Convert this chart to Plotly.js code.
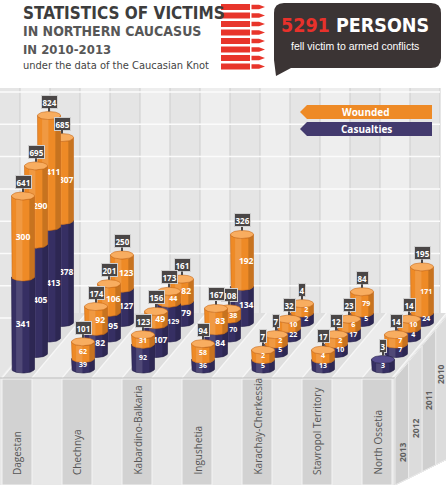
<!DOCTYPE html>
<html><head><meta charset="utf-8">
<script src="https://cdn.plot.ly/plotly-3.0.1.min.js"></script>
<style>html,body{margin:0;padding:0;background:#fff}#chart{width:446px;height:485px}</style>
</head><body><div id="chart"></div>
<script>
// ---------------- DATA ----------------
const regions = ['Dagestan','Chechnya','Kabardino-Balkaria','Ingushetia','Karachay-Cherkessia','Stavropol Territory','North Ossetia'];
const years = ['2013','2012','2011','2010']; // front row to back row
const casualties2013 = [341, 39, 92, 36, 5, 13, 3];
const wounded2013    = [300, 62, 31, 58, 2,  4, 0];
const casualties2012 = [405, 82,107, 84, 5, 10, 7];
const wounded2012    = [290, 92, 49, 83, 2,  2, 7];
const casualties2011 = [413, 95,129, 70,22, 17, 4];
const wounded2011    = [411,106, 44, 38,10,  6,10];
const casualties2010 = [378,127, 79,134, 2,  5,24];
const wounded2010    = [307,123, 82,192, 2, 79,171];
const totalVictims = 5291;
const seriesNames = ['Wounded','Casualties'];

const casualtiesByRow = [casualties2013, casualties2012, casualties2011, casualties2010];
const woundedByRow    = [wounded2013, wounded2012, wounded2011, wounded2010];

// ---------------- GEOMETRY ----------------
const W=446, H=485;
const X0=23, XS=60, Y0=369, K=0.27;
const DX=13/XS, DY=15.5/K, RX=11.5/XS, RY=4/K, MINV=35, N=28;
const px = x => x/W, py = y => 1 - y/H;
const FONT = 'Open Sans, Liberation Sans, sans-serif';
const NARROW = 'Liberation Sans Narrow, DejaVu Sans Condensed, Liberation Sans, sans-serif';
const C = {navy:'#362f63', navyCap:'#554b8d', navyEdge:'#221d45',
           orange:'#ee8a26', orangeCap:'#f8ad60', orangeEdge:'#c96a18'};

function bodyTrace(cx, y0, y1, fill, edge){
  const xs=[cx-RX], ys=[y1];
  for(let k=0;k<=N;k++){const t=Math.PI+Math.PI*k/N; xs.push(cx+RX*Math.cos(t)); ys.push(y0+RY*Math.sin(t));}
  for(let k=0;k<=N;k++){const t=2*Math.PI-Math.PI*k/N; xs.push(cx+RX*Math.cos(t)); ys.push(y1+RY*Math.sin(t));}
  return {type:'scatter', mode:'lines', x:xs, y:ys, fill:'toself', fillcolor:fill,
          line:{color:edge, width:0.6}, hoverinfo:'skip', showlegend:false};
}
// shading strip that follows the front arcs of a cylinder body between u0 and u1 (fractions of radius)
function stripTrace(cx, y0, y1, u0, u1, fill){
  const xs=[], ys=[], M=10;
  for(let k=0;k<=M;k++){const u=u0+(u1-u0)*k/M; xs.push(cx+RX*u); ys.push(y0-RY*Math.sqrt(Math.max(0,1-u*u)));}
  for(let k=M;k>=0;k--){const u=u0+(u1-u0)*k/M; xs.push(cx+RX*u); ys.push(y1-RY*Math.sqrt(Math.max(0,1-u*u)));}
  xs.push(xs[0]); ys.push(ys[0]);
  return {type:'scatter', mode:'lines', x:xs, y:ys, fill:'toself', fillcolor:fill,
          line:{width:0}, hoverinfo:'skip', showlegend:false};
}
function capTrace(cx, y, fill, edge){
  const xs=[], ys=[];
  for(let k=0;k<=2*N;k++){const t=2*Math.PI*k/(2*N); xs.push(cx+RX*Math.cos(t)); ys.push(y+RY*Math.sin(t));}
  return {type:'scatter', mode:'lines', x:xs, y:ys, fill:'toself', fillcolor:fill,
          line:{color:edge, width:0.6}, hoverinfo:'skip', showlegend:false};
}
function path(pts){ return 'M' + pts.map(p => px(p[0]).toFixed(5)+','+py(p[1]).toFixed(5)).join(' L') + ' Z'; }
function txt(x, y, text, font, extra){
  return Object.assign({xref:'paper', yref:'paper', x:px(x), y:py(y), xanchor:'center', yanchor:'middle', showarrow:false, text:text, font:font}, extra||{});
}

const traces=[], ann=[], shapes=[];

// ---------------- BACKGROUND (wall, floor, base) ----------------
shapes.push({type:'rect', xref:'paper', yref:'paper', x0:px(0), x1:px(440), y0:py(378), y1:py(88), fillcolor:'#eeeeee', line:{width:0}, layer:'below'});
for(let x=-10; x<440; x+=60){
  shapes.push({type:'rect', xref:'paper', yref:'paper', x0:px(Math.max(0,x)), x1:px(x+30), y0:py(378), y1:py(88), fillcolor:'#e5e5e5', line:{width:0}, layer:'below'});
}
for(let x=20; x<=440; x+=30){
  shapes.push({type:'line', xref:'paper', yref:'paper', x0:px(x), x1:px(x), y0:py(378), y1:py(88), line:{color:'#cdcdcd', width:1}, layer:'below'});
}
for(let y=92; y<330; y+=32.3){
  shapes.push({type:'line', xref:'paper', yref:'paper', x0:px(0), x1:px(440), y0:py(y), y1:py(y), line:{color:'#fbfbfb', width:1.5}, layer:'below'});
}
// floor
const FD=54.5, FB=313;
shapes.push({type:'path', xref:'paper', yref:'paper', path:path([[0,378],[395,378],[395+FD,FB],[FD,FB]]), fillcolor:'#ececec', line:{width:0}, layer:'below'});
for(let i=0;i<regions.length;i++){
  const a=60*i+2, b=60*i+32;
  shapes.push({type:'path', xref:'paper', yref:'paper', path:path([[a,378],[b,378],[b+FD,FB],[a+FD,FB]]), fillcolor:'#dedede', line:{width:0}, layer:'below'});
}
for(let b=2; b<=395; b+=30){
  shapes.push({type:'line', xref:'paper', yref:'paper', x0:px(b), x1:px(b+FD), y0:py(378), y1:py(FB), line:{color:'#f7f7f7', width:1.2}, layer:'below'});
}
// front face
shapes.push({type:'rect', xref:'paper', yref:'paper', x0:px(0), x1:px(395), y0:py(485), y1:py(378), fillcolor:'#e8e8e8', line:{width:0}, layer:'below'});
for(let i=0;i<regions.length;i++){
  shapes.push({type:'rect', xref:'paper', yref:'paper', x0:px(60*i+2), x1:px(60*i+32), y0:py(485), y1:py(379), fillcolor:'#d2d2d2', line:{color:'#f4f4f4', width:1}, layer:'below'});
}
shapes.push({type:'line', xref:'paper', yref:'paper', x0:px(0), x1:px(395), y0:py(378), y1:py(378), line:{color:'#bdbdbd', width:1}, layer:'below'});
// side face
const sideBot = x => 485 - (x-395)*0.495;
const sideTop = x => 378 - (x-395)*(65/FD);
shapes.push({type:'path', xref:'paper', yref:'paper', path:path([[395,378],[395+FD,FB],[395+FD,sideBot(395+FD)],[395,485]]), fillcolor:'#d6d6d6', line:{color:'#c4c4c4', width:1}, layer:'below'});
for(let k=0;k<4;k++){
  const xa=395+13.6*k, xb=xa+13.6;
  shapes.push({type:'path', xref:'paper', yref:'paper', path:path([[xa,sideTop(xa)],[xb,sideTop(xb)],[xb,sideBot(xb)],[xa,sideBot(xa)]]), fillcolor:(k%2? '#dcdcdc':'#cfcfcf'), line:{color:'#ececec', width:1}, layer:'below'});
}
const yearPos = [[402,452],[415,428],[428,401],[440,374]];
years.forEach((y,k)=>{
  ann.push(txt(yearPos[k][0], yearPos[k][1], '<b>'+y+'</b>', {family:FONT, size:8.5, color:'#5f5f5f'}, {textangle:-90}));
});
regions.forEach((r,i)=>{
  ann.push(txt(60*i+17, 477, r, {family:FONT, size:10, color:'#555'}, {textangle:-90, yanchor:'bottom'}));
});

// ---------------- CYLINDERS ----------------
for(let j=3;j>=0;j--){
  for(let i=0;i<regions.length;i++){
    const c=casualtiesByRow[j][i], w=woundedByRow[j][i];
    const cx=i+j*DX, base=j*DY;
    const hc = c>0 ? Math.max(c,MINV) : 0, hw = w>0 ? Math.max(w,MINV) : 0;
    const yc=base+hc, yw=yc+hw;
    const segs=[];
    if(hc>0) segs.push([base, yc, C.navy, C.navyEdge]);
    if(hw>0) segs.push([yc, yw, C.orange, C.orangeEdge]);
    segs.forEach(s=>{
      traces.push(bodyTrace(cx, s[0], s[1], s[2], s[3]));
      traces.push(stripTrace(cx, s[0], s[1], -0.6, -0.05, 'rgba(255,255,255,0.13)'));
      traces.push(stripTrace(cx, s[0], s[1], 0.55, 0.98, 'rgba(0,0,0,0.16)'));
    });
    traces.push(capTrace(cx, yw, hw>0 ? C.orangeCap : C.navyCap, hw>0 ? C.orangeEdge : C.navyEdge));
    const off = j>0 ? 0.07 : 0;
    const small = (hc<45||hw<45);
    const tx=[], ty=[], tt=[];
    if(c>0){tx.push(cx+off); ty.push(base+hc/2 - RY*0.45); tt.push('<b>'+c+'</b>');}
    if(w>0){tx.push(cx+off); ty.push(yc+hw/2 - RY*0.45); tt.push('<b>'+w+'</b>');}
    traces.push({type:'scatter', mode:'text', x:tx, y:ty, text:tt, textposition:'middle center',
      textfont:{family:FONT, size:small?7:8.5, color:'#ffffff'}, hoverinfo:'skip', showlegend:false});
    ann.push({x:cx, y:yw+RY, xref:'x', yref:'y', text:'<b>'+(c+w)+'</b>', showarrow:true, arrowhead:0,
      arrowwidth:2, arrowcolor:'#4a4646', ax:0, ay:-10, standoff:0, bgcolor:'#4a4646', bordercolor:'#cfcfcf',
      borderwidth:1, borderpad:0.5, font:{family:FONT, size:8, color:'#ffffff'}});
  }
}

// ---------------- HEADER ----------------
ann.push(txt(21, 1, '<b>STATISTICS OF VICTIMS</b>', {family:NARROW, size:17, color:'#3d3d3d'}, {xanchor:'left', yanchor:'top'}));
ann.push(txt(21, 21, '<b>IN NORTHERN CAUCASUS</b>', {family:'DejaVu Sans Condensed, Liberation Sans, sans-serif', size:14, color:'#575757'}, {xanchor:'left', yanchor:'top'}));
ann.push(txt(21, 40, '<b>IN 2010-2013</b>', {family:NARROW, size:13, color:'#575757'}, {xanchor:'left', yanchor:'top'}));
ann.push(txt(21, 57, 'under the data of the Caucasian Knot', {family:NARROW, size:11, color:'#444'}, {xanchor:'left', yanchor:'top'}));
// bullets
for(let k=0;k<8;k++){
  const y=4+8.5*k;
  shapes.push({type:'rect', xref:'paper', yref:'paper', x0:px(221), x1:px(250), y0:py(y+6), y1:py(y), fillcolor:'#e8352b', line:{width:0}});
  shapes.push({type:'path', xref:'paper', yref:'paper', path:path([[251.5,y+0.8],[259,y+0.8],[265,y+3],[259,y+5.2],[251.5,y+5.2]]), fillcolor:'#e8352b', line:{width:0}});
}
// speech bubble
const bub = 'M'+px(284)+','+py(3)+' L'+px(431)+','+py(3)+' Q'+px(441)+','+py(3)+' '+px(441)+','+py(13)+
  ' L'+px(441)+','+py(58)+' Q'+px(441)+','+py(68)+' '+px(431)+','+py(68)+' L'+px(291)+','+py(68)+
  ' L'+px(276)+','+py(76)+' L'+px(274)+','+py(60)+' L'+px(274)+','+py(13)+' Q'+px(274)+','+py(3)+' '+px(284)+','+py(3)+' Z';
shapes.push({type:'path', xref:'paper', yref:'paper', path:bub, fillcolor:'#3b3434', line:{width:0}});
ann.push(txt(355, 25, '<b><span style="color:#e8312b">'+totalVictims+'</span> PERSONS</b>', {family:NARROW, size:19.5, color:'#ffffff'}));
ann.push(txt(355, 46, 'fell victim to armed conflicts', {family:'Liberation Sans, sans-serif', size:10.5, color:'#ffffff'}));

// legend banners
shapes.push({type:'path', xref:'paper', yref:'paper', path:path([[300,112],[307,105],[432,105],[432,119],[307,119]]), fillcolor:C.orange, line:{width:0}});
shapes.push({type:'path', xref:'paper', yref:'paper', path:path([[300,129],[307,122],[432,122],[432,136],[307,136]]), fillcolor:'#433a6e', line:{width:0}});
ann.push(txt(366, 112, '<b>'+seriesNames[0]+'</b>', {family:FONT, size:10, color:'#fff'}));
ann.push(txt(366, 129, '<b>'+seriesNames[1]+'</b>', {family:FONT, size:10, color:'#fff'}));

const layout = {
  width:W, height:H, margin:{l:0,r:0,t:0,b:0}, paper_bgcolor:'#ffffff', plot_bgcolor:'rgba(0,0,0,0)',
  showlegend:false,
  xaxis:{range:[-X0/XS, (W-X0)/XS], visible:false, fixedrange:true},
  yaxis:{range:[(Y0-H)/K, Y0/K], visible:false, fixedrange:true},
  shapes:shapes, annotations:ann
};
Plotly.newPlot('chart', traces, layout, {displayModeBar:false, staticPlot:true});
</script></body></html>
